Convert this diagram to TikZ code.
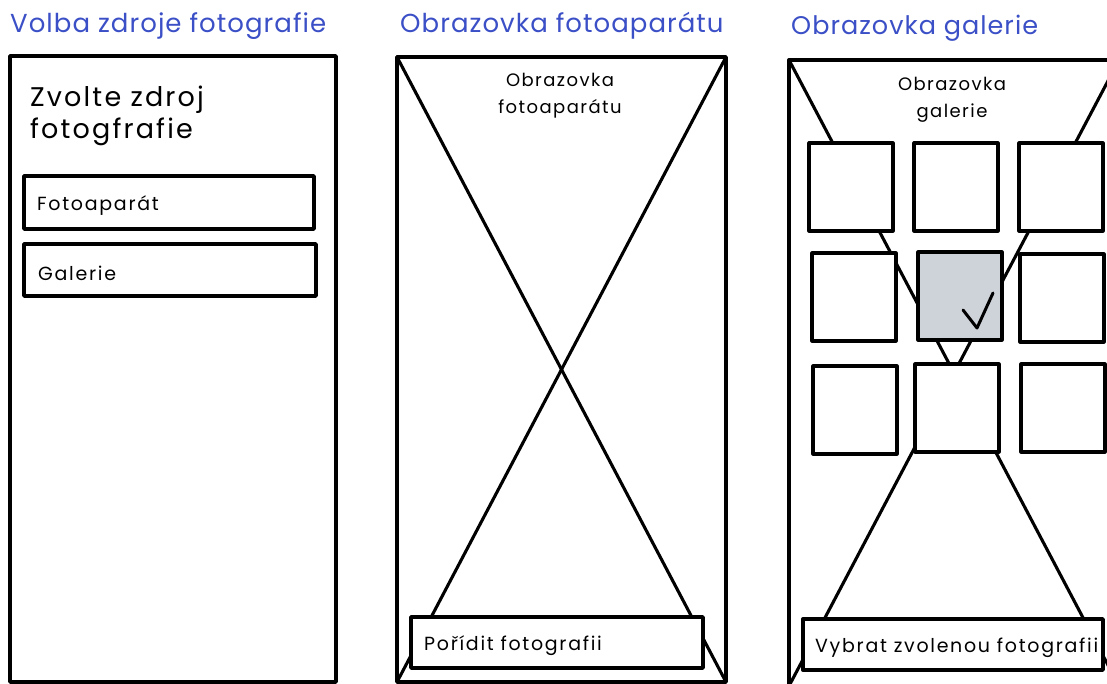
\documentclass[tikz,border=0pt]{standalone}
\usepackage{fontspec}
\setmainfont{Poppins}
\newfontfamily\sketch{Poppins}
\newfontfamily\sketchwide[LetterSpace=4]{Poppins}
\newfontfamily\sketchwider[LetterSpace=8]{Poppins}
\newfontfamily\sketchlabel[LetterSpace=9]{Poppins}
\definecolor{titleblue}{HTML}{3B4FC6}
\definecolor{picked}{HTML}{CED2D9}
\tikzset{
  screen/.style={draw, line width=3.4pt, inner sep=0pt, outer sep=0pt, anchor=north west, line join=round},
  cross/.style={line width=3.1pt, line cap=round},
  btn/.style={draw, fill=white, line width=3.4pt, inner sep=0pt, outer sep=0pt, anchor=north west, line join=round},
  tile/.style={draw, fill=white, line width=3.2pt, inner sep=0pt, outer sep=0pt, anchor=north west,
               minimum width=84pt, minimum height=88pt, line join=round},
  heading/.style={text=titleblue, font=\sketchwide\fontsize{26}{30}\selectfont, anchor=base west, inner sep=0pt},
  label/.style={font=\sketchlabel\fontsize{19}{22}\selectfont, anchor=west, inner sep=0pt},
  caption/.style={font=\sketchwider\fontsize{18}{27}\selectfont, align=center, inner sep=0pt, anchor=north},
}
\begin{document}
\begin{tikzpicture}[x=1pt, y=-1pt]
\useasboundingbox (0,0) rectangle (1107,684);
\clip (0,0) rectangle (1107,684);

% headings
\node[heading] (h1) at (10,33) {Volba zdroje fotografie};
\node[heading] (h2) at (400,33) {Obrazovka fotoaparátu};
\node[heading, font=\sketchwide\fontsize{25.5}{30}\selectfont] (h3) at (791,35) {Obrazovka galerie};

% screen 1: choosing the source
\node[screen, minimum width=326pt, minimum height=626pt] (s1) at (10,56) {};
\node[font=\sketchwider\fontsize{27}{32}\selectfont, align=left, anchor=north west, inner sep=0pt] (q) at (30,86)
  {Zvolte zdroj\\fotogfrafie};
\node[btn, minimum width=290pt, minimum height=53pt] (b1) at (24,176) {};
\node[label] (b1t) at ([shift={(13,3)}]b1.west) {Fotoaparát};
\node[btn, minimum width=292pt, minimum height=52pt] (b2) at (24,244) {};
\node[label] (b2t) at ([shift={(14,3)}]b2.west) {Galerie};

% screen 2: camera
\node[screen, minimum width=329pt, minimum height=625pt] (s2) at (397,57) {};
\draw[cross] (s2.north west) -- (s2.south east);
\draw[cross] (s2.north east) -- (s2.south west);
\node[caption] (c2) at (560,73) {Obrazovka\\fotoaparátu};
\node[btn, minimum width=292pt, minimum height=51pt] (b3) at (411,617) {};
\node[label] (b3t) at ([shift={(13,3)}]b3.west) {Pořídit fotografii};

% screen 3: gallery
\node[screen, minimum width=330pt, minimum height=626pt] (s3) at (789,60) {};
\draw[cross] (s3.north west) -- (s3.south east);
\draw[cross] (s3.north east) -- (s3.south west);
\node[caption] (c3) at (952,77) {Obrazovka\\galerie};

\node[tile] (t11) at (809,143) {};
\node[tile] (t12) at (914,143) {};
\node[tile] (t13) at (1019,143) {};
\node[tile] (t21) at (812,253) {};
\node[tile, fill=picked] (t22) at (918,252) {};
\node[tile] (t23) at (1020,254) {};
\node[tile] (t31) at (813,366) {};
\node[tile] (t32) at (915,364) {};
\node[tile] (t33) at (1021,364) {};

% tick on the selected photo
\coordinate (k1) at (963,310);
\coordinate (k2) at (977,328);
\coordinate (k3) at (993,293);
\draw[line width=3pt, line cap=round, line join=round] (k1) -- (k2) -- (k3);

\node[btn, minimum width=300pt, minimum height=51pt] (b4) at (803,619) {};
\node[label] (b4t) at ([shift={(12,3)}]b4.west) {Vybrat zvolenou fotografii};
\end{tikzpicture}
\end{document}
